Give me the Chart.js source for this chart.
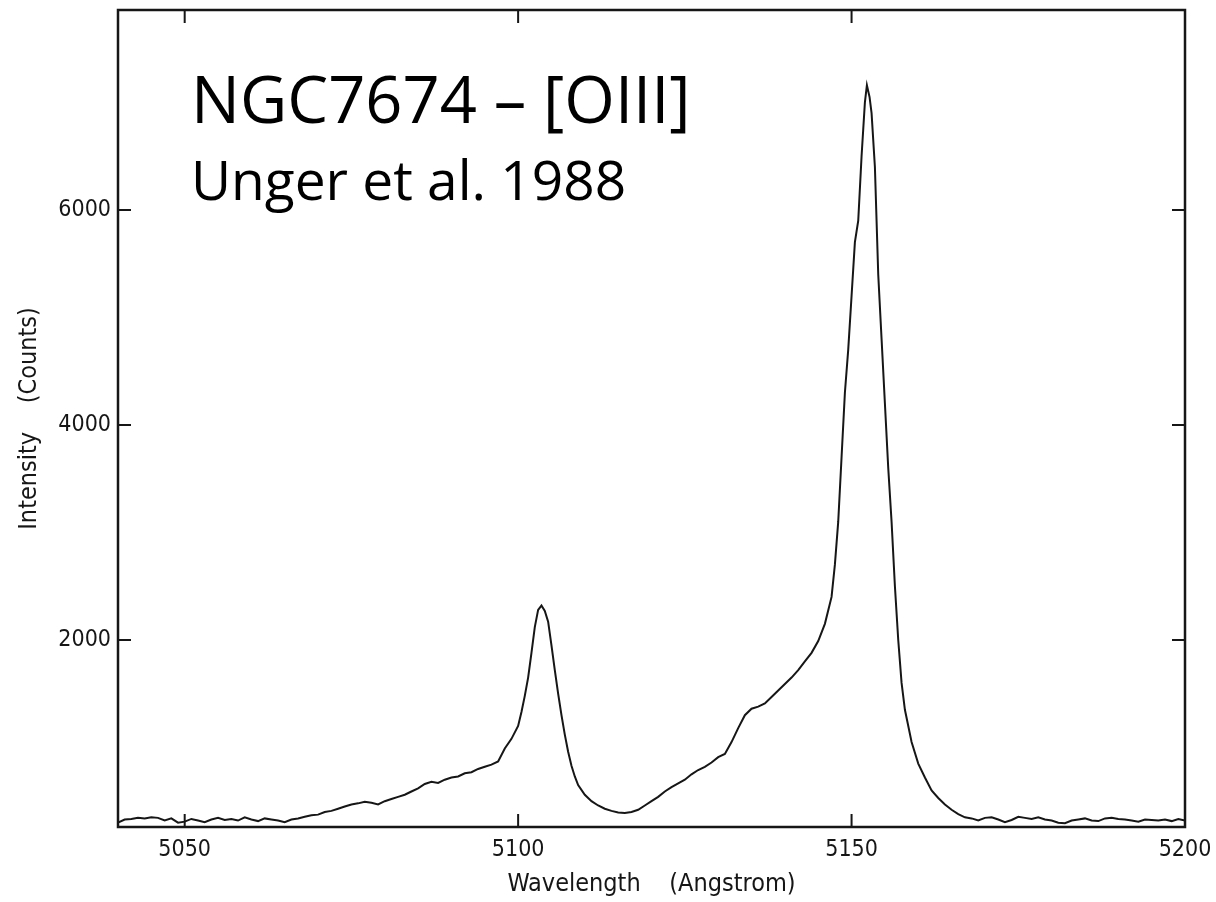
<!DOCTYPE html>
<html lang="en">
<head>
    <meta charset="UTF-8">
    <title>NGC7674 [OIII] spectrum</title>
    <style>
        body { margin: 0; background: #fff; }
        canvas { display: block; }
    </style>
</head>
<body>
    <canvas id="spectrum" width="1216" height="902"></canvas>

    <script src="https://cdn.jsdelivr.net/npm/chart.js@4.4.1/dist/chart.umd.min.js"></script>
    <script>
        // wavelength (Angstrom) and intensity (counts)
        const wavelength = [
            5040, 5041, 5042, 5043, 5044, 5045, 5046, 5047, 5048, 5049,
            5050, 5051, 5052, 5053, 5054, 5055, 5056, 5057, 5058, 5059,
            5060, 5061, 5062, 5063, 5064, 5065, 5066, 5067, 5068, 5069,
            5070, 5071, 5072, 5073, 5074, 5075, 5076, 5077, 5078, 5079,
            5080, 5081, 5082, 5083, 5084, 5085, 5086, 5087, 5088, 5089,
            5090, 5091, 5092, 5093, 5094, 5095, 5096, 5097, 5098, 5099,
            5100, 5100.5, 5101, 5101.5, 5102, 5102.5, 5103, 5103.5, 5104, 5104.5,
            5105, 5105.5, 5106, 5106.5, 5107, 5107.5, 5108, 5108.5, 5109, 5110,
            5111, 5112, 5113, 5114, 5115, 5116, 5117, 5118, 5119, 5120,
            5121, 5122, 5123, 5124, 5125, 5126, 5127, 5128, 5129, 5130,
            5131, 5132, 5133, 5134, 5135, 5136, 5137, 5138, 5139, 5140,
            5141, 5142, 5143, 5144, 5145, 5146, 5147, 5147.5, 5148, 5148.5,
            5149, 5149.5, 5150, 5150.5, 5151, 5151.5, 5152, 5152.3, 5152.7, 5153,
            5153.5, 5154, 5154.5, 5155, 5155.5, 5156, 5156.5, 5157, 5157.5, 5158,
            5159, 5160, 5161, 5162, 5163, 5164, 5165, 5166, 5167, 5168,
            5169, 5170, 5171, 5172, 5173, 5174, 5175, 5176, 5177, 5178,
            5179, 5180, 5181, 5182, 5183, 5184, 5185, 5186, 5187, 5188,
            5189, 5190, 5191, 5192, 5193, 5194, 5195, 5196, 5197, 5198,
            5199, 5200
        ];
        const counts = [
            300, 330, 335, 345, 340, 350, 345, 320, 340, 300,
            310, 335, 320, 305, 330, 345, 325, 335, 320, 350,
            330, 315, 340, 330, 320, 305, 330, 340, 355, 370,
            375, 400, 410, 430, 450, 470, 480, 495, 485, 470,
            500, 520, 540, 560, 590, 620, 660, 680, 670, 700,
            720, 730, 760, 770, 800, 820, 840, 870, 990, 1080,
            1200, 1330, 1480, 1650, 1880, 2120, 2280, 2320, 2270, 2170,
            1950, 1720, 1500, 1300, 1120, 960, 830, 730, 650, 560,
            500, 460, 430, 410, 395, 390, 400, 420, 460, 500,
            540, 590, 630, 665, 700, 750, 790, 820, 860, 910,
            940, 1050, 1180, 1300, 1360, 1380, 1410, 1470, 1530, 1590,
            1650, 1720, 1800, 1880, 1990, 2150, 2400, 2700, 3100, 3700,
            4300, 4700, 5200, 5700, 5900, 6500, 7000, 7160, 7050, 6900,
            6400, 5400, 4800, 4200, 3600, 3100, 2500, 2000, 1600, 1350,
            1050, 850, 720, 600, 530, 470, 420, 380, 350, 340,
            320, 345, 350, 330, 305, 325, 355, 345, 335, 350,
            330, 320, 300, 295, 320, 330, 340, 320, 315, 340,
            345, 335, 330, 320, 310, 330, 325, 320, 330, 315,
            335, 320
        ];

        const xTicks = [5050, 5100, 5150, 5200];
        const yTicks = [2000, 4000, 6000];
        const xRange = [5040, 5200];
        const yRange = [260, 7860];

        const labelFont = "'Liberation Sans Narrow', 'DejaVu Sans Condensed', sans-serif";
        const ink = "#161616";

        // frame box plus inward tick marks on all four sides
        const frame = {
            id: "frame",
            afterDraw(chart) {
                const ctx = chart.ctx;
                const a = chart.chartArea;
                const xs = chart.scales.x, ys = chart.scales.y;
                const len = 13;
                ctx.save();
                ctx.strokeStyle = ink;
                ctx.lineWidth = 2.5;
                ctx.strokeRect(a.left, a.top, a.right - a.left, a.bottom - a.top);
                ctx.lineWidth = 2;
                ctx.beginPath();
                xTicks.forEach(v => {
                    const px = xs.getPixelForValue(v);
                    ctx.moveTo(px, a.bottom); ctx.lineTo(px, a.bottom - len);
                    ctx.moveTo(px, a.top); ctx.lineTo(px, a.top + len);
                });
                yTicks.forEach(v => {
                    const py = ys.getPixelForValue(v);
                    ctx.moveTo(a.left, py); ctx.lineTo(a.left + len, py);
                    ctx.moveTo(a.right, py); ctx.lineTo(a.right - len, py);
                });
                ctx.stroke();

                // object name and reference
                ctx.fillStyle = "#000";
                ctx.textBaseline = "alphabetic";
                ctx.font = "65px 'Open Sans', sans-serif";
                ctx.fillText("NGC7674 \u2013 [OIII]", 191, 123);
                ctx.font = "55px 'Open Sans', sans-serif";
                ctx.fillText("Unger et al. 1988", 191, 200);
                ctx.restore();
            }
        };

        new Chart(document.getElementById("spectrum"), {
            type: "line",
            data: {
                datasets: [{
                    data: wavelength.map((w, i) => ({ x: w, y: counts[i] })),
                    borderColor: ink,
                    borderWidth: 2,
                    pointRadius: 0,
                    tension: 0,
                    fill: false
                }]
            },
            plugins: [frame],
            options: {
                responsive: false,
                animation: false,
                layout: { padding: { top: 10, right: 31, left: 0, bottom: 0 } },
                plugins: {
                    legend: { display: false },
                    tooltip: { enabled: false }
                },
                scales: {
                    x: {
                        type: "linear",
                        min: xRange[0],
                        max: xRange[1],
                        afterBuildTicks: s => { s.ticks = xTicks.map(v => ({ value: v })); },
                        afterFit: s => {
                            s.height = 75;
                            s.paddingLeft = 0;
                            s.paddingRight = 0;
                        },
                        grid: { display: false, drawTicks: false },
                        border: { display: false },
                        ticks: {
                            color: ink,
                            padding: 9,
                            maxRotation: 0,
                            font: { family: labelFont, size: 23 },
                            callback: v => String(v)
                        },
                        title: {
                            display: true,
                            text: "Wavelength    (Angstrom)",
                            color: ink,
                            padding: { top: 0, bottom: 3 },
                            font: { family: labelFont, size: 25 }
                        }
                    },
                    y: {
                        type: "linear",
                        min: yRange[0],
                        max: yRange[1],
                        afterBuildTicks: s => { s.ticks = yTicks.map(v => ({ value: v })); },
                        afterFit: s => {
                            s.width = 118;
                            s.paddingTop = 0;
                            s.paddingBottom = 0;
                        },
                        grid: { display: false, drawTicks: false },
                        border: { display: false },
                        ticks: {
                            color: ink,
                            padding: 7,
                            font: { family: labelFont, size: 23 },
                            callback: v => String(v)
                        },
                        title: {
                            display: true,
                            text: "Intensity    (Counts)",
                            color: ink,
                            padding: { top: 14, bottom: 0 },
                            font: { family: labelFont, size: 25 }
                        }
                    }
                }
            }
        });
    </script>
</body>
</html>
